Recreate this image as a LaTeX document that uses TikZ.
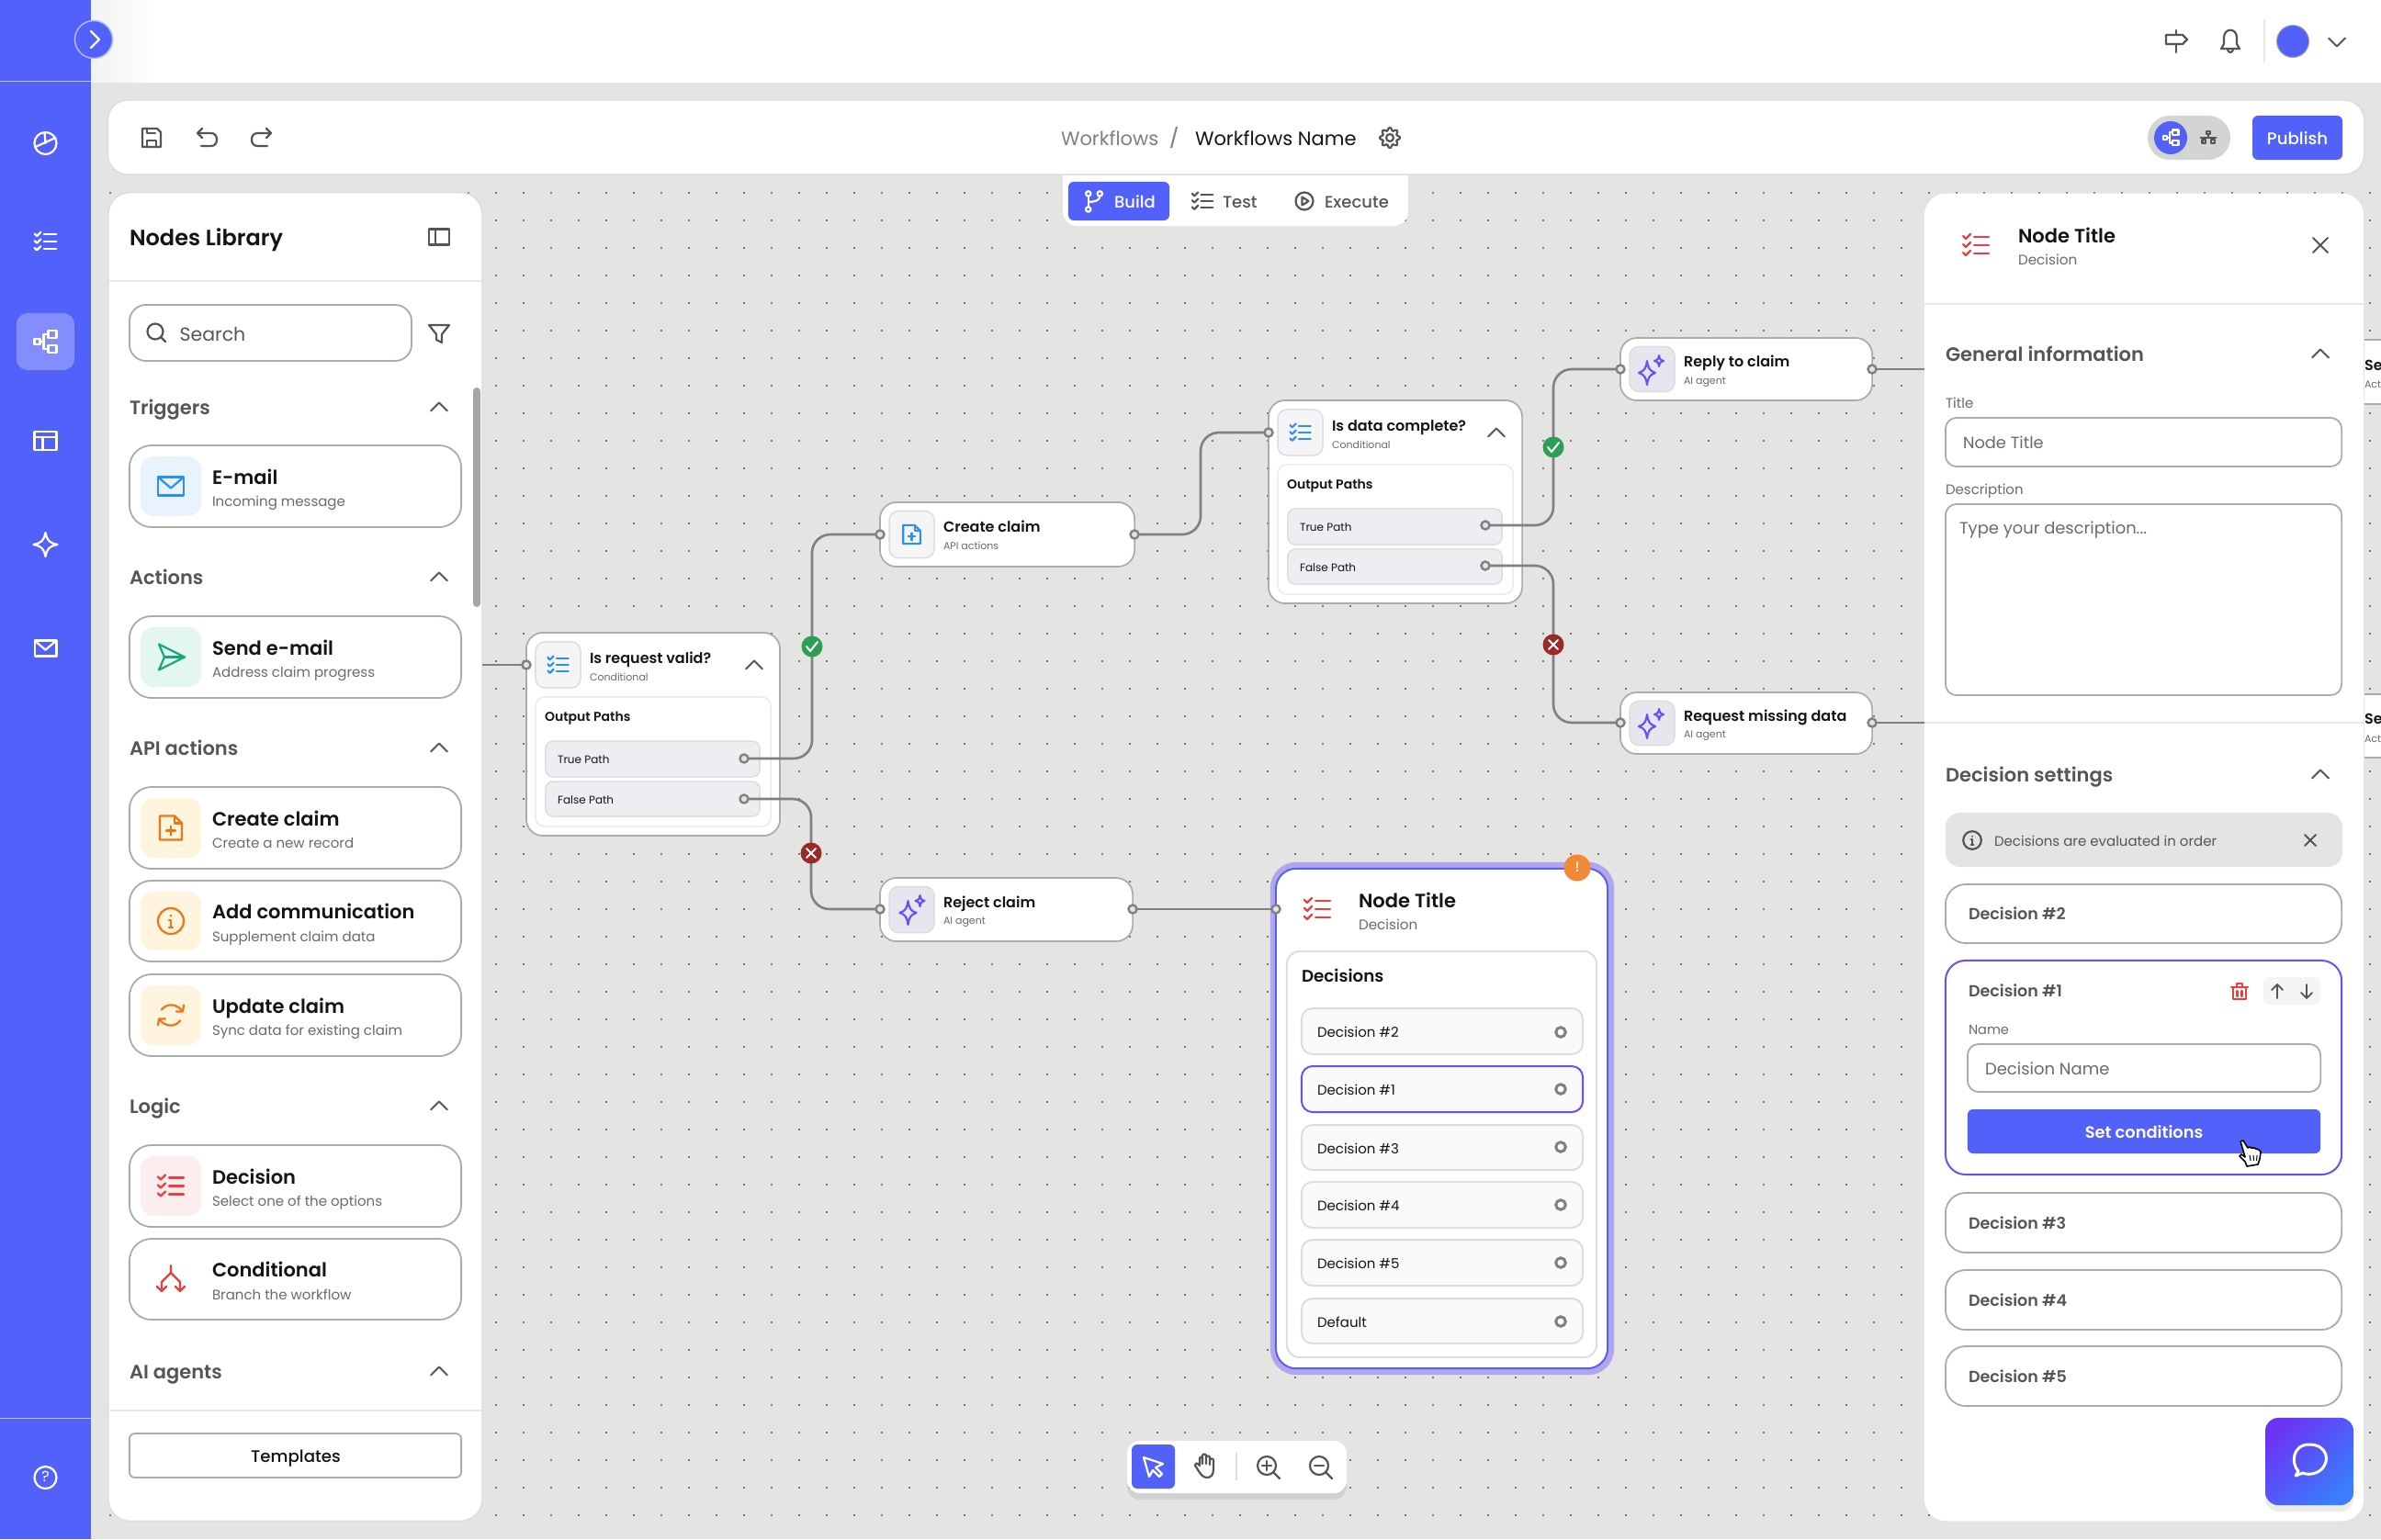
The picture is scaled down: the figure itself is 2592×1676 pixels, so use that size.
\documentclass[tikz,border=0pt]{standalone}
\usepackage{fontspec}
\usetikzlibrary{shadows,calc,arrows.meta}
\setmainfont{Poppins}
\newfontfamily\fmed{Poppins Medium}
\newfontfamily\fsemi{Poppins SemiBold}
\definecolor{blueui}{HTML}{5361FB}
\definecolor{canvasbg}{HTML}{E4E4E2}
\definecolor{dotc}{HTML}{777777}
\definecolor{edge}{HTML}{ABABAB}
\definecolor{edgelt}{HTML}{DDDDDD}
\definecolor{conn}{HTML}{808080}
\definecolor{ink}{HTML}{141414}
\definecolor{sec}{HTML}{555555}
\definecolor{sub}{HTML}{6A6A6A}
\definecolor{purp}{HTML}{6E4FF6}
\definecolor{halo}{HTML}{B3A5EC}
\definecolor{redic}{HTML}{F23B3F}
\definecolor{orgic}{HTML}{F07412}
\definecolor{bluic}{HTML}{2B8FF5}
\definecolor{tealic}{HTML}{12A87B}
\definecolor{okg}{HTML}{2E9E55}
\definecolor{nok}{HTML}{9A2A2A}
\definecolor{pathbg}{HTML}{EDEEF2}
\definecolor{gica}{HTML}{F5F5F7}
\definecolor{gicb}{HTML}{E6E7EE}
\definecolor{bgcream}{HTML}{FFF5DF}
\definecolor{bgblue}{HTML}{E9F3FD}
\definecolor{bgteal}{HTML}{E4F7EF}
\definecolor{bgred}{HTML}{FDEDEE}
\definecolor{chatp}{HTML}{6B35F5}
\definecolor{chatb}{HTML}{3B7DFD}
\pgfdeclarelayer{under}
\pgfdeclarelayer{wires}
\pgfsetlayers{under,wires,main}
\newcommand\fpx[1]{\fontsize{\fpeval{#1*0.2845}pt}{\fpeval{#1*0.32}pt}\selectfont}
\newcounter{tc}\newcounter{bc}
% named box from corners
\newcommand\bx[6]{\node[#6,rectangle,inner sep=0pt,outer sep=0pt,minimum width={\fpeval{(#4-#2)*0.01}cm},minimum height={\fpeval{(#5-#3)*0.01}cm}] (#1) at ({\fpeval{(#2+#4)/2}},{\fpeval{(#3+#5)/2}}) {};}
\newcommand\bb[5]{\stepcounter{bc}\bx{b\arabic{bc}}{#1}{#2}{#3}{#4}{#5}}
% named text
\newcommand\tx[6]{\stepcounter{tc}\node[inner sep=0pt,outer sep=0pt,anchor=#3,text=#5,node font=#4] (t\arabic{tc}) at (#1,{#2+2.4}) {#6};}
\tikzset{
 lw/.style={line width=#1*0.2845pt},
 rc/.style={rounded corners=#1*0.2845pt},
 card/.style={draw=edge,fill=white,lw=1.8,rc=24},
 icbg/.style={fill=#1,rc=14},
 gcard/.style={draw=edge,fill=white,lw=1.7,rc=18},
 gic/.style={fill=#1,draw=edgelt,lw=1.5,rc=10},
 inbox/.style={draw=edge,fill=white,lw=1.8,rc=12},
 path box/.style={fill=pathbg,draw=edgelt,lw=1.5,rc=8},
 ic/.style={draw=#1,lw=2.2,line cap=round,line join=round},
 port/.style={circle,draw=conn,fill=canvasbg,lw=2.4,inner sep=0pt,minimum size=0.9mm},
 rowport/.style={port,lw=3,minimum size=1.05mm,fill=white},
 wire/.style={draw=conn,lw=2.6,rc=20},
 badge/.style={circle,fill=#1,inner sep=0pt,minimum size=2.3mm},
}
% icons
\newcommand\iclist[4]{\begin{scope}[shift={(#1,#2)},scale=#4]\foreach \yy in {-9,0,9}{\draw[ic=#3] (-14,\yy-1) -- (-11,\yy+2) -- (-6,\yy-3);\draw[ic=#3] (-2,\yy) -- (14,\yy);}\end{scope}}
\newcommand\icmail[4]{\begin{scope}[shift={(#1,#2)},scale=#4]\draw[ic=#3] (-14,-10) rectangle (14,10);\draw[ic=#3] (-14,-10) -- (0,2) -- (14,-10);\end{scope}}
\newcommand\icdoc[4]{\begin{scope}[shift={(#1,#2)},scale=#4]\draw[ic=#3] (-12,-13) -- (4,-13) -- (12,-5) -- (12,13) -- (-12,13) -- cycle;\draw[ic=#3] (4,-13) -- (4,-5) -- (12,-5);\draw[ic=#3] (-5,3) -- (5,3);\draw[ic=#3] (0,-2) -- (0,8);\end{scope}}
\newcommand\icinfo[4]{\begin{scope}[shift={(#1,#2)},scale=#4]\draw[ic=#3] (0,0) circle (14);\draw[ic=#3] (-2,-1) -- (0,-1) -- (0,7);\draw[ic=#3] (-2,7) -- (2,7);\fill[#3] (0,-6) circle (1.5);\end{scope}}
\newcommand\icsync[4]{\begin{scope}[shift={(#1,#2)},scale=#4]\draw[ic=#3] (-10,-6) .. controls (-5,-13) and (6,-13) .. (12,-5);\draw[ic=#3] (14,-11) -- (13,-4) -- (6,-4);\draw[ic=#3] (10,6) .. controls (5,13) and (-6,13) .. (-12,5);\draw[ic=#3] (-14,11) -- (-13,4) -- (-6,4);\end{scope}}
\newcommand\iccond[4]{\begin{scope}[shift={(#1,#2)},scale=#4]\draw[ic=#3] (0,-15) -- (0,-7) -- (-10,3) -- (-10,13);\draw[ic=#3] (0,-7) -- (10,3) -- (10,13);\draw[ic=#3] (-15,8) -- (-10,13) -- (-5,8);\draw[ic=#3] (5,8) -- (10,13) -- (15,8);\end{scope}}
\newcommand\icsend[4]{\begin{scope}[shift={(#1,#2)},scale=#4]\draw[ic=#3] (-13,-14) -- (15,0) -- (-13,14) -- (-7,0) -- cycle;\draw[ic=#3] (-7,0) -- (15,0);\end{scope}}
\newcommand\icstar[4]{\begin{scope}[shift={(#1,#2)},scale=#4]\draw[ic=#3] (-4,-9) .. controls (-3,-1) and (-1,2) .. (5,4) .. controls (-1,6) and (-3,9) .. (-4,17) .. controls (-5,9) and (-7,6) .. (-13,4) .. controls (-7,2) and (-5,-1) .. (-4,-9) -- cycle;\draw[ic=#3] (9,-15) .. controls (9.5,-11) and (10.5,-10) .. (14,-9) .. controls (10.5,-8) and (9.5,-7) .. (9,-3) .. controls (8.5,-7) and (7.5,-8) .. (4,-9) .. controls (7.5,-10) and (8.5,-11) .. (9,-15) -- cycle;\end{scope}}
\newcommand\icflow[4]{\begin{scope}[shift={(#1,#2)},scale=#4]\draw[ic=#3] (-12,-3) rectangle (-6,3);\draw[ic=#3] (3,-12) rectangle (12,-4);\draw[ic=#3] (3,4) rectangle (12,12);\draw[ic=#3] (-6,0) -- (-2,0);\draw[ic=#3] (3,-8) -- (-2,-8) -- (-2,8) -- (3,8);\end{scope}}
\newcommand\chev[3]{\begin{scope}[shift={(#1,#2)}]\draw[ic=#3,lw=2] (-9,4.5) -- (0,-4.5) -- (9,4.5);\end{scope}}
\newcommand\xmark[4]{\begin{scope}[shift={(#1,#2)}]\draw[ic=#3,lw=2] (-#4,-#4) -- (#4,#4);\draw[ic=#3,lw=2] (-#4,#4) -- (#4,-#4);\end{scope}}
% left library card
\newcommand\libcard[8]{%
 \bx{#1}{141}{#2}{502}{#3}{card}
 \bb{153}{\fpeval{#2+12}}{219}{\fpeval{#3-12}}{icbg=#4}
 \tx{231}{\fpeval{(#2+#3)/2-10.5}}{mid west}{\fsemi\fpx{21}}{ink}{#5}
 \tx{231}{\fpeval{(#2+#3)/2+15.5}}{mid west}{\fpx{15}}{sub}{#6}
 #7{186}{\fpeval{(#2+#3)/2}}{#8}{1}}
\newcommand\sechead[2]{\tx{141}{#2}{mid west}{\fsemi\fpx{21}}{sec}{#1}\chev{478}{#2}{sec}}
% small workflow card
\newcommand\flowcard[9]{%
 \bx{#1}{#2}{#3}{#4}{#5}{gcard}
 \bb{\fpeval{#2+10}}{\fpeval{#3+9.5}}{\fpeval{#2+59}}{\fpeval{#5-9.5}}{gic=#6}
 \tx{\fpeval{#2+69}}{\fpeval{(#3+#5)/2-9}}{mid west}{\fsemi\fpx{16}}{ink}{#7}
 \tx{\fpeval{#2+69}}{\fpeval{(#3+#5)/2+11}}{mid west}{\fpx{11}}{sub}{#8}
 #9}
% conditional card
\newcommand\condcard[4]{% name, x, y, title
 \bx{#1}{#2}{#3}{\fpeval{#2+276}}{\fpeval{#3+221}}{gcard}
 \bb{\fpeval{#2+10}}{\fpeval{#3+10}}{\fpeval{#2+59}}{\fpeval{#3+60}}{gic=gica}
 \iclist{\fpeval{#2+34.5}}{\fpeval{#3+35}}{bluic}{0.8}
 \tx{\fpeval{#2+69}}{\fpeval{#3+27}}{mid west}{\fsemi\fpx{16}}{ink}{#4}
 \tx{\fpeval{#2+69}}{\fpeval{#3+47}}{mid west}{\fpx{11}}{sub}{Conditional}
 \chev{\fpeval{#2+248}}{\fpeval{#3+35}}{sec}
 \bb{\fpeval{#2+10}}{\fpeval{#3+70}}{\fpeval{#2+266}}{\fpeval{#3+211}}{draw=edgelt!60,fill=white,lw=1.5,rc=10}
 \tx{\fpeval{#2+20}}{\fpeval{#3+90}}{mid west}{\fsemi\fpx{14}}{ink}{Output Paths}
 \bb{\fpeval{#2+21}}{\fpeval{#3+118}}{\fpeval{#2+254}}{\fpeval{#3+157}}{path box}
 \bb{\fpeval{#2+21}}{\fpeval{#3+162}}{\fpeval{#2+254}}{\fpeval{#3+200}}{path box}
 \tx{\fpeval{#2+34}}{\fpeval{#3+137}}{mid west}{\fpx{12}}{ink}{True Path}
 \tx{\fpeval{#2+34}}{\fpeval{#3+181}}{mid west}{\fpx{12}}{ink}{False Path}}
\newcommand\decrow[5]{% name y1 y2 text style
 \bx{#1}{1417}{#2}{1723}{#3}{#5}
 \tx{1434}{\fpeval{(#2+#3)/2}}{mid west}{\fpx{15}}{ink}{#4}}
\newcommand\pbox[4]{% name y1 y2 text
 \bx{#1}{2118}{#2}{2549}{#3}{card,rc=22}
 \tx{2143}{\fpeval{(#2+#3)/2-.5}}{mid west}{\fsemi\fpx{17.5}}{sec}{#4}}
\begin{document}
\begin{tikzpicture}[x=0.01cm,y=-0.01cm]
\useasboundingbox (0,0) rectangle (2592,1676);
\begin{pgfonlayer}{under}
% canvas and dots
\fill[canvasbg] (0,0) rectangle (2592,1676);
\foreach \xx in {119,149,...,2579}{\foreach \yy in {209,239,...,1650}{\fill[dotc] (\xx,\yy) rectangle +(1.6,1.6);}}
% header
\fill[white] (99,0) rectangle (2592,90);
\shade[left color=black!5,right color=white] (99,0) rectangle (170,90);
% sidebar
\fill[blueui] (0,0) rectangle (99,1676);
\draw[white!60!blueui,lw=1] (0,89) -- (99,89);
\draw[white!60!blueui,lw=1] (0,1544) -- (99,1544);
\bx{sideactive}{18}{341}{81}{403}{fill=white!28!blueui,rc=12}
% tabs
\bx{tabs}{1157}{170}{1533}{246}{fill=white,rc=16}
% toolbar
\bx{toolbar}{118}{109}{2573}{190}{fill=white,draw=edgelt,lw=1.5,rc=22}
\bx{buildbtn}{1163}{198}{1273}{240}{fill=blueui,rc=6}
% panels
\bx{libpanel}{118}{210}{525}{1656}{fill=white,draw=edgelt,lw=1.5,rc=24}
\draw[edgelt!70,lw=1.5] (118,306) -- (525,306);
\draw[edgelt!70,lw=1.5] (118,1536) -- (525,1536);
\bx{scrollbar}{515}{422}{523}{661}{fill=black!35,rc=4}
\bx{setpanel}{2095}{211}{2573}{1656}{fill=white,rc=24}
\draw[edgelt!70,lw=1.5] (2095,331) -- (2573,331);
\draw[edgelt!70,lw=1.5] (2095,787) -- (2573,787);
% clipped cards at the right edge
\begin{scope}
\clip (2574,360) rectangle (2592,840);
\bx{offa}{2570}{370}{2640}{440}{fill=white,draw=edge,lw=1.5}
\bx{offb}{2570}{756}{2640}{825}{fill=white,draw=edge,lw=1.5}
\tx{2574}{397}{mid west}{\fsemi\fpx{16}}{ink}{Se}
\tx{2574}{417}{mid west}{\fpx{11}}{sub}{Acti}
\tx{2574}{782}{mid west}{\fsemi\fpx{16}}{ink}{Se}
\tx{2574}{803}{mid west}{\fpx{11}}{sub}{Acti}
\end{scope}
% workflow cards
\condcard{valid}{573}{689}{Is request valid?}
\flowcard{create}{958}{547}{1235}{617}{gica}{Create claim}{API actions}{\icdoc{992.5}{582}{bluic}{0.78}}
\flowcard{reject}{958}{956}{1233}{1025}{gicb}{Reject claim}{AI agent}{\icstar{992.5}{990}{purp}{1}}
\condcard{complete}{1381}{436}{Is data complete?}
\flowcard{reply}{1764}{368}{2038}{436}{gicb}{Reply to claim}{AI agent}{\icstar{1797}{402}{purp}{1}}
\flowcard{request}{1764}{754}{2038}{821}{gicb}{Request missing data}{AI agent}{\icstar{1797}{787}{purp}{1}}
% decision node
\bx{nodehalo}{1383}{939}{1757}{1497}{fill=halo,rc=28}
\bx{nodecard}{1389}{946}{1750}{1490}{fill=white,draw=blueui,lw=2,rc=22}
\bx{nodeinner}{1401}{1036}{1738}{1478}{fill=white,draw=edgelt,lw=2,rc=14}
\iclist{1434}{990}{redic}{1}
\tx{1479}{980}{mid west}{\fsemi\fpx{21}}{ink}{Node Title}
\tx{1479}{1006}{mid west}{\fpx{15.2}}{sub}{Decision}
\tx{1417}{1062}{mid west}{\fsemi\fpx{18.3}}{ink}{Decisions}
\tikzset{decb/.style={fill=black!2,draw=edgelt,lw=2,rc=12}}
\decrow{rowb}{1098}{1148}{Decision \#2}{decb}
\decrow{rowa}{1161}{1211}{Decision \#1}{decb,draw=purp}
\decrow{rowc}{1225}{1274}{Decision \#3}{decb}
\decrow{rowd}{1287}{1337}{Decision \#4}{decb}
\decrow{rowe}{1350}{1400}{Decision \#5}{decb}
\decrow{rowf}{1414}{1463}{Default}{decb}
\end{pgfonlayer}
% ports and badges
\foreach \nm/\px/\py in {pv/573/724,pvt/810/826,pvf/810/870,pcl/958/582,pcr/1235/582,prl/958/990,prr/1233/990,pdl/1381/471,pdt/1617/572,pdf/1617/616,prpl/1764/402,prpr/2038/402,prql/1764/787,prqr/2038/787,pnl/1389/990}{\node[port] (\nm) at (\px,\py) {};}
\foreach \nm/\py in {pra/1124,prb/1186,prc/1249,prd/1312,pre/1375,prf/1439}{\node[rowport] (\nm) at (1699,\py) {};}
\node[badge=okg] (bg1) at (884,704) {};
\node[badge=nok] (br1) at (883,929) {};
\node[badge=okg] (bg2) at (1691,487) {};
\node[badge=nok] (br2) at (1691,702) {};
\draw[white,lw=2,line cap=round,line join=round] (878,704) -- (882,709) -- (890,699);
\draw[white,lw=2,line cap=round,line join=round] (1685,487) -- (1689,492) -- (1697,482);
\xmark{883}{929}{white}{5}
\xmark{1691}{702}{white}{5}
\coordinate (stubl) at (525,724);
\coordinate (stubra) at (2095,402);
\coordinate (stubrb) at (2095,787);
\coordinate (vmid) at (1307,530);
\begin{pgfonlayer}{wires}
\draw[wire] (stubl) -- (pv.center);
\draw[wire] (pvt.center) -| (bg1.center) |- (pcl.center);
\draw[wire] (pvf.center) -| (br1.center) |- (prl.center);
\draw[wire] (prr.center) -- (pnl.center);
\draw[wire] (pcr.center) -| (vmid) |- (pdl.center);
\draw[wire] (pdt.center) -| (bg2.center) |- (prpl.center);
\draw[wire] (pdf.center) -| (br2.center) |- (prql.center);
\draw[wire] (prpr.center) -- (stubra);
\draw[wire] (prqr.center) -- (stubrb);
\end{pgfonlayer}
% alert
\node[circle,fill=orgic!85!white,inner sep=0pt,minimum size=2.9mm] (alert) at (1717,945) {};
\tx{1717}{943}{mid}{\fmed\fpx{15}}{white}{!}
% sidebar content
\node[circle,fill=blueui,draw=white!55!blueui,lw=1.5,inner sep=0pt,minimum size=4.1mm] (togglebtn) at (102,43) {};
\draw[ic=white] (99,34) -- (108,43) -- (99,52);
\begin{scope}[shift={(49.5,156)}]\draw[ic=white] (0,0) circle (12);\draw[ic=white] (-11,4) -- (11,-6);\draw[ic=white] (0,0) -- (-1,-12);\end{scope}
\iclist{49.5}{263}{white}{0.85}
\icflow{49.5}{372}{white}{1}
\begin{scope}[shift={(49.5,480)}]\draw[ic=white] (-12,-10) rectangle (12,10);\draw[ic=white] (-12,-4) -- (12,-4);\draw[ic=white] (-3,-4) -- (-3,10);\end{scope}
\begin{scope}[shift={(49.5,593)}]\draw[ic=white] (0,-13) .. controls (2,-4) and (4,-2) .. (13,0) .. controls (4,2) and (2,4) .. (0,13) .. controls (-2,4) and (-4,2) .. (-13,0) .. controls (-4,-2) and (-2,-4) .. (0,-13) -- cycle;\end{scope}
\icmail{49.5}{706}{white}{0.85}
\draw[ic=white] (49.5,1609) circle (12);
\tx{49.5}{1607}{mid}{\fpx{16}}{white}{?}
% top right
\begin{scope}[shift={(2369,45)}]\draw[ic=sec] (0,-12) -- (0,12);\draw[ic=sec,fill=white] (-11,-7) -- (7,-7) -- (12,-2) -- (7,3) -- (-11,3) -- cycle;\end{scope}
\begin{scope}[shift={(2428,44)}]\draw[ic=sec] (-10,9) -- (-7,4) -- (-7,-3) .. controls (-7,-14) and (7,-14) .. (7,-3) -- (7,4) -- (10,9) -- cycle;\draw[ic=sec] (-3,10) .. controls (-2,14) and (2,14) .. (3,10);\end{scope}
\draw[edgelt!70,lw=1.5] (2465,21) -- (2465,68);
\node[circle,fill=blueui,draw=black!35,lw=1,inner sep=0pt,minimum size=3.5mm] (avatar) at (2496,45) {};
\begin{scope}[shift={(2544,46)}]\draw[ic=sec,lw=2] (-9,-4.5) -- (0,4.5) -- (9,-4.5);\end{scope}
% toolbar content
\begin{scope}[shift={(165,150)}]\draw[ic=sec] (-10,-10) -- (6,-10) -- (10,-6) -- (10,10) -- (-10,10) -- cycle;\draw[ic=sec] (-5,10) -- (-5,3) -- (5,3) -- (5,10);\draw[ic=sec] (-5,-10) -- (-5,-5) -- (4,-5);\end{scope}
\begin{scope}[shift={(225,150)}]\draw[ic=sec] (-5,-10) -- (-10,-5) -- (-5,0);\draw[ic=sec] (-10,-5) -- (5,-5) .. controls (13,-5) and (13,9) .. (5,9) -- (-6,9);\end{scope}
\begin{scope}[shift={(285,150)}]\draw[ic=sec] (5,-10) -- (10,-5) -- (5,0);\draw[ic=sec] (10,-5) -- (-5,-5) .. controls (-13,-5) and (-13,9) .. (-5,9) -- (6,9);\end{scope}
\tx{1155}{150}{mid west}{\fpx{21}}{black!50}{Workflows}
\draw[black!50,lw=2] (1281,138) -- (1275,161);
\tx{1301}{150}{mid west}{\fpx{21}}{ink}{Workflows Name}
\begin{scope}[shift={(1513,150)}]\draw[ic=sec] plot[domain=0:360,samples=60,smooth cycle] ({(9.5+1.6*cos(8*\x))*cos(\x)},{(9.5+1.6*cos(8*\x))*sin(\x)});\draw[ic=sec] (0,0) circle (4);\end{scope}
\bx{toggle}{2338}{126}{2428}{174}{fill=black!17,rc=24}
\node[circle,fill=blueui,inner sep=0pt,minimum size=3.6mm] (toggleon) at (2363,150) {};
\icflow{2363}{150}{white}{0.7}
\begin{scope}[shift={(2404,150)},scale=0.6]\draw[ic=sec] (-3,-11) rectangle (3,-6);\draw[ic=sec] (0,-6) -- (0,0);\draw[ic=sec] (-14,0) -- (14,0);\draw[ic=sec] (-8,0) -- (-8,4);\draw[ic=sec] (8,0) -- (8,4);\draw[ic=sec] (-11,4) rectangle (-5,10);\draw[ic=sec] (5,4) rectangle (11,10);\end{scope}
\bx{publish}{2452}{126}{2550}{174}{fill=blueui,rc=6}
\tx{2501}{150}{mid}{\fmed\fpx{18.2}}{white}{Publish}
% tabs content
\begin{scope}[shift={(1191,219)},scale=.9]\draw[ic=white] (-7,-9) circle (3);\draw[ic=white] (-7,10) circle (3);\draw[ic=white] (7,-9) circle (3);\draw[ic=white] (-7,-6) -- (-7,7);\draw[ic=white] (7,-6) .. controls (7,0) and (-1,1) .. (-7,1);\end{scope}
\tx{1213}{219}{mid west}{\fmed\fpx{18}}{white}{Build}
\iclist{1309}{219}{sec}{0.8}
\tx{1331}{219}{mid west}{\fmed\fpx{18}}{sec}{Test}
\begin{scope}[shift={(1420,219)}]\draw[ic=sec] (0,0) circle (9.5);\draw[ic=sec] (-2.5,-4.5) -- (4.5,0) -- (-2.5,4.5) -- cycle;\end{scope}
\tx{1442}{219}{mid west}{\fmed\fpx{18}}{sec}{Execute}
% library panel
\tx{141}{258}{mid west}{\fsemi\fpx{24}}{ink}{Nodes Library}
\begin{scope}[shift={(478,258)}]\draw[ic=sec] (-11,-8.5) rectangle (11,8.5);\draw[ic=sec] (-4,-8.5) -- (-4,8.5);\end{scope}
\bx{search}{141}{332}{448}{393}{inbox,rc=18}
\begin{scope}[shift={(170,362)}]\draw[ic=sec] (-1,-1) circle (8.5);\draw[ic=sec] (5,5) -- (10,10);\end{scope}
\tx{195.5}{363}{mid west}{\fpx{20.5}}{sec}{Search}
\begin{scope}[shift={(478,363)}]\draw[ic=sec] (-11,-9) -- (11,-9) -- (3,1) -- (3,10) -- (-3,7) -- (-3,1) -- cycle;\end{scope}
\sechead{Triggers}{443}
\libcard{cmail}{485}{574}{bgblue}{E-mail}{Incoming message}{\icmail}{bluic}
\sechead{Actions}{628}
\libcard{csend}{671}{760}{bgteal}{Send e-mail}{Address claim progress}{\icsend}{tealic}
\sechead{API actions}{814}
\libcard{ccreate}{857}{946}{bgcream}{Create claim}{Create a new record}{\icdoc}{orgic}
\libcard{cadd}{959}{1047}{bgcream}{Add communication}{Supplement claim data}{\icinfo}{orgic}
\libcard{cupdate}{1061}{1150}{bgcream}{Update claim}{Sync data for existing claim}{\icsync}{orgic}
\sechead{Logic}{1204}
\libcard{cdec}{1247}{1336}{bgred}{Decision}{Select one of the options}{\iclist}{redic}
\libcard{ccond}{1349}{1437}{white}{Conditional}{Branch the workflow}{\iccond}{redic}
\sechead{AI agents}{1493}
\bx{templates}{141}{1561}{502}{1609}{inbox,rc=6}
\tx{322}{1585}{mid}{\fmed\fpx{18.2}}{ink}{Templates}
% settings panel
\iclist{2151}{267}{redic}{1}
\tx{2197}{256}{mid west}{\fsemi\fpx{21}}{ink}{Node Title}
\tx{2197}{282}{mid west}{\fpx{15.2}}{sub}{Decision}
\xmark{2526}{267}{sec}{8}
\tx{2118}{385}{mid west}{\fsemi\fpx{21}}{sec}{General information}
\chev{2526}{385}{sec}
\tx{2118}{438}{mid west}{\fpx{15}}{sub}{Title}
\bx{titleinput}{2118}{455}{2549}{508}{inbox}
\tx{2137}{481}{mid west}{\fpx{17.8}}{sub}{Node Title}
\tx{2118}{532}{mid west}{\fpx{15}}{sub}{Description}
\bx{descinput}{2118}{549}{2549}{757}{inbox}
\tx{2133}{574}{mid west}{\fpx{17.9}}{sub}{Type your description...}
\tx{2118}{843}{mid west}{\fsemi\fpx{21}}{sec}{Decision settings}
\chev{2526}{843}{sec}
\bx{banner}{2118}{885}{2550}{944}{fill=canvasbg,rc=16}
\icinfo{2147}{915}{sec}{0.7}
\tx{2171}{915}{mid west}{\fpx{15}}{sec}{Decisions are evaluated in order}
\xmark{2515}{915}{sec}{6}
\pbox{dtwo}{963}{1027}{Decision \#2}
\bx{done}{2118}{1046}{2549}{1279}{fill=white,draw=purp,lw=2,rc=22}
\tx{2143}{1078}{mid west}{\fsemi\fpx{17.5}}{sec}{Decision \#1}
\begin{scope}[shift={(2438,1079)}]\draw[ic=redic] (-7,-4) rectangle (7,9);\draw[ic=redic] (-9,-4) -- (9,-4);\draw[ic=redic] (-3,-4) -- (-3,-8) -- (3,-8) -- (3,-4);\draw[ic=redic] (-2.5,0) -- (-2.5,6);\draw[ic=redic] (2.5,0) -- (2.5,6);\end{scope}
\bx{arrowsbg}{2464}{1064}{2526}{1094}{fill=black!4,rc=6}
\draw[ic=sec,lw=1.8] (2479,1087) -- (2479,1072);\draw[ic=sec,lw=1.8] (2473,1078) -- (2479,1072) -- (2485,1078);
\draw[ic=sec,lw=1.8] (2511,1072) -- (2511,1087);\draw[ic=sec,lw=1.8] (2505,1081) -- (2511,1087) -- (2517,1081);
\tx{2143}{1120}{mid west}{\fpx{14.5}}{sub}{Name}
\bx{nameinput}{2142}{1137}{2526}{1189}{inbox}
\tx{2161}{1163}{mid west}{\fpx{18}}{sub}{Decision Name}
\bx{setcond}{2142}{1208}{2526}{1256}{fill=blueui,rc=6}
\tx{2334}{1232}{mid}{\fsemi\fpx{17.8}}{white}{Set conditions}
\pbox{dthree}{1299}{1364}{Decision \#3}
\pbox{dfour}{1383}{1448}{Decision \#4}
\pbox{dfive}{1466}{1531}{Decision \#5}
% cursor
\begin{scope}[shift={(2449,1257)}]\draw[fill=white,draw=black,lw=1.6,line join=round] (-10,-14) -- (-7,-15) -- (-2,-7) -- (0,-8) -- (2,-7) -- (5,-7) -- (7,-6) -- (10,-5) -- (12,-3) -- (11,5) -- (9,11) -- (-3,13) -- (-5,8) -- (-11,2) -- (-9,0) -- (-5,3) -- cycle;\draw[black,lw=1] (0,1) -- (1,7);\draw[black,lw=1] (4,1) -- (4.5,7);\draw[black,lw=1] (8,1) -- (7.5,7);\end{scope}
% chat
\bx{chat}{2466}{1544}{2562}{1639}{left color=chatp,right color=chatb,shading angle=45,rc=14,drop shadow={opacity=.15,shadow xshift=0pt,shadow yshift=-2pt}}
\begin{scope}[shift={(2514,1590)}]\draw[ic=white,lw=3] (-12,12) .. controls (-20,4) and (-19,-17) .. (0,-17) .. controls (19,-17) and (24,1) .. (12,11) .. controls (6,16) and (-4,16) .. (-7,14) -- (-15,17) -- cycle;\end{scope}
% palette
\bx{palette}{1227}{1569}{1466}{1626}{fill=white,rc=14,drop shadow={opacity=.18,shadow xshift=0pt,shadow yshift=-2pt}}
\bx{selbtn}{1232}{1573}{1279}{1621}{fill=blueui,rc=6}
\begin{scope}[shift={(1255,1597)}]\draw[ic=white] (-10,-10) -- (11,-3) -- (3,1) -- (10,8) -- (7,11) -- (0,4) -- (-4,11) -- cycle;\end{scope}
\begin{scope}[shift={(1312,1597)}]\draw[ic=sec] (-3,10) .. controls (-6,8) and (-9,1) .. (-11,-1) .. controls (-12,-3) and (-9,-5) .. (-7,-2) -- (-6,-1) -- (-6,-9) .. controls (-6,-11) and (-3,-11) .. (-3,-9) -- (-3,-3) -- (-3,-12) .. controls (-3,-14) and (1,-14) .. (1,-12) -- (1,-3) -- (1,-10) .. controls (1,-12) and (5,-12) .. (5,-10) -- (5,-2) -- (5,-7) .. controls (5,-9) and (9,-9) .. (9,-7) -- (9,3) .. controls (9,9) and (6,12) .. (2,12) .. controls (0,12) and (-2,11) .. (-3,10) -- cycle;\end{scope}
\draw[edgelt,lw=1.5] (1346,1582) -- (1346,1612);
\begin{scope}[shift={(1379,1596)}]\draw[ic=sec] (0,0) circle (10);\draw[ic=sec] (7,7) -- (14,14);\draw[ic=sec] (-5,0) -- (5,0);\draw[ic=sec] (0,-5) -- (0,5);\end{scope}
\begin{scope}[shift={(1436,1596)}]\draw[ic=sec] (0,0) circle (10);\draw[ic=sec] (7,7) -- (14,14);\draw[ic=sec] (-5,0) -- (5,0);\end{scope}
\end{tikzpicture}
\end{document}
